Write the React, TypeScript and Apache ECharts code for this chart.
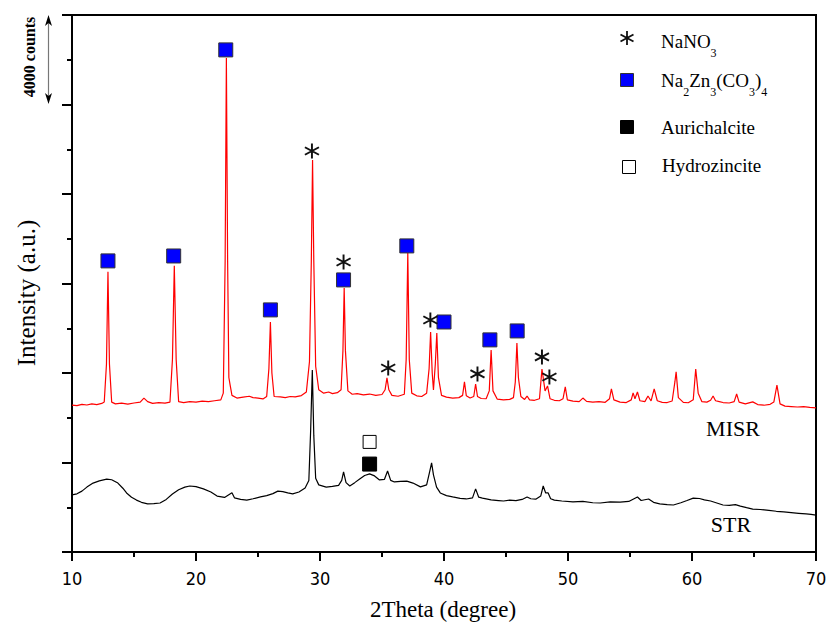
import { useEffect, useRef } from "react";
import * as echarts from "echarts";

// 2Theta range and y scale (counts)
const X_MIN = 10;
const X_MAX = 70;
const X_STEP = 10;
const Y_MIN = 0;
const Y_MAX = 24000;
const Y_STEP = 4000;

// MISR trace [2theta, counts]
const misrData: [number, number][] = [
  [10.0, 6560], [10.4, 6540], [10.8, 6600], [11.2, 6570], [11.6, 6620], [12.0, 6590], [12.4, 6640],
  [12.6, 6700], [12.78, 8400], [12.9, 12520], [13.02, 8400], [13.2, 6700], [13.5, 6620], [14.0, 6650],
  [14.5, 6610], [15.0, 6660], [15.5, 6700], [15.8, 6880], [16.1, 6720], [16.5, 6640], [17.0, 6680],
  [17.5, 6650], [17.9, 6700], [18.1, 8600], [18.25, 12790], [18.4, 8600], [18.6, 6720], [19.0, 6680],
  [19.5, 6720], [20.0, 6700], [20.5, 6740], [21.0, 6720], [21.5, 6760], [22.0, 6800], [22.2, 7100],
  [22.35, 13000], [22.45, 22080], [22.55, 13000], [22.65, 7800], [22.75, 7470], [22.9, 7000],
  [23.3, 6880], [23.8, 6920], [24.3, 6960], [24.6, 6900], [25.0, 6880], [25.4, 6840], [25.7, 6950],
  [25.88, 8200], [26.0, 10280], [26.12, 8000], [26.3, 6950], [26.8, 6930], [27.2, 6900], [27.6, 6950],
  [28.0, 6930], [28.5, 6990], [28.9, 7150], [29.15, 8500], [29.3, 13000], [29.4, 17520], [29.5, 13000],
  [29.65, 8300], [29.9, 7250], [30.3, 7100], [30.7, 7150], [31.0, 7080], [31.4, 7120], [31.7, 7250],
  [31.85, 9000], [31.95, 11800], [32.05, 9000], [32.25, 7200], [32.6, 7050], [33.0, 7080], [33.5, 7020],
  [34.0, 7060], [34.5, 7000], [35.0, 7040], [35.25, 7250], [35.4, 7780], [35.55, 7250], [35.8, 7000],
  [36.3, 6960], [36.8, 7050], [36.95, 8600], [37.08, 13370], [37.2, 8600], [37.4, 7100], [37.8, 6980],
  [38.2, 6950], [38.6, 7100], [38.8, 8200], [38.92, 9830], [39.05, 8000], [39.15, 7240], [39.3, 8400],
  [39.42, 9790], [39.55, 7800], [39.8, 7000], [40.2, 6920], [40.7, 6880], [41.2, 6900], [41.5, 7000],
  [41.65, 7600], [41.8, 6980], [42.1, 6880], [42.4, 6950], [42.55, 7510], [42.7, 6950], [43.0, 6860],
  [43.4, 6850], [43.65, 7200], [43.8, 9030], [43.95, 7200], [44.3, 6830], [44.8, 6800], [45.3, 6820],
  [45.6, 6900], [45.75, 7600], [45.88, 9340], [46.0, 7800], [46.2, 6950], [46.5, 6820], [46.7, 6970],
  [46.9, 6800], [47.3, 6780], [47.7, 6850], [47.9, 8180], [48.15, 7200], [48.35, 7420], [48.55, 6850],
  [48.9, 6780], [49.3, 6760], [49.6, 6850], [49.78, 7380], [49.95, 6800], [50.4, 6740], [50.9, 6720],
  [51.2, 6880], [51.5, 6730], [52.0, 6700], [52.5, 6720], [53.0, 6690], [53.35, 6850], [53.5, 7290],
  [53.7, 6800], [54.2, 6700], [54.7, 6680], [55.1, 6800], [55.25, 7110], [55.4, 6850], [55.6, 7150],
  [55.8, 6760], [56.2, 6720], [56.45, 6970], [56.7, 6750], [56.95, 7290], [57.2, 6760], [57.6, 6690],
  [58.0, 6680], [58.4, 6750], [58.62, 7600], [58.72, 8050], [58.9, 6900], [59.3, 6690], [59.7, 6670],
  [60.1, 6800], [60.3, 8180], [60.5, 7100], [60.8, 6720], [61.2, 6700], [61.5, 6780], [61.7, 6970],
  [61.9, 6760], [62.2, 6720], [62.5, 6680], [63.0, 6660], [63.4, 6720], [63.6, 7060], [63.8, 6700],
  [64.3, 6620], [64.9, 6710], [65.3, 6590], [65.8, 6560], [66.3, 6600], [66.6, 6700], [66.85, 7460],
  [67.1, 6620], [67.5, 6520], [68.0, 6500], [68.5, 6480], [69.0, 6500], [69.5, 6460], [70.0, 6440],
];

// STR trace [2theta, counts]
const strData: [number, number][] = [
  [10.0, 2550], [10.4, 2600], [10.8, 2720], [11.2, 2900], [11.7, 3080], [12.2, 3180], [12.8, 3260],
  [13.2, 3230], [13.7, 3080], [14.1, 2850], [14.4, 2640], [14.8, 2450], [15.2, 2320], [15.6, 2220],
  [16.1, 2150], [16.6, 2160], [17.1, 2190], [17.6, 2350], [18.1, 2590], [18.6, 2780], [19.1, 2900],
  [19.5, 2950], [20.0, 2920], [20.6, 2820], [21.2, 2680], [21.7, 2500], [22.3, 2440], [22.9, 2650],
  [23.1, 2420], [23.6, 2350], [24.1, 2320], [24.6, 2380], [25.2, 2460], [25.7, 2520], [26.2, 2610],
  [26.6, 2720], [27.0, 2700], [27.4, 2640], [27.8, 2600], [28.3, 2680], [28.8, 2860], [29.1, 3200],
  [29.25, 5500], [29.38, 8130], [29.5, 5200], [29.65, 3300], [29.9, 3000], [30.5, 2900], [31.0, 2930],
  [31.5, 2980], [31.75, 3200], [31.9, 3580], [32.1, 3100], [32.4, 2950], [32.8, 3100], [33.2, 3260],
  [33.6, 3420], [34.0, 3490], [34.4, 3400], [34.8, 3220], [35.2, 3250], [35.45, 3620], [35.7, 3200],
  [36.0, 3130], [36.5, 3160], [37.0, 3170], [37.5, 3080], [38.1, 2910], [38.6, 3000], [38.85, 3600],
  [39.0, 3980], [39.15, 3450], [39.4, 2900], [39.7, 2640], [40.2, 2520], [40.7, 2460], [41.3, 2400],
  [41.8, 2370], [42.3, 2420], [42.55, 2820], [42.8, 2450], [43.1, 2410], [43.8, 2330], [44.4, 2300],
  [44.8, 2280], [45.3, 2320], [45.8, 2300], [46.3, 2350], [46.7, 2460], [47.0, 2380], [47.4, 2360],
  [47.8, 2500], [48.0, 2950], [48.2, 2640], [48.4, 2640], [48.6, 2380], [48.9, 2320], [49.5, 2280],
  [50.4, 2240], [51.2, 2260], [52.0, 2200], [52.6, 2190], [53.4, 2240], [54.2, 2230], [54.9, 2260],
  [55.6, 2460], [55.9, 2300], [56.5, 2370], [56.9, 2220], [57.4, 2150], [58.0, 2120], [58.5, 2100],
  [59.1, 2200], [59.6, 2300], [60.1, 2410], [60.6, 2390], [61.0, 2330], [61.5, 2280], [62.0, 2190],
  [62.5, 2100], [63.0, 2080], [63.5, 2120], [63.9, 2050], [64.4, 1980], [64.9, 1920], [65.5, 1900],
  [66.2, 1860], [66.8, 1820], [67.4, 1790], [68.0, 1760], [68.6, 1730], [69.2, 1700], [69.6, 1680],
  [70.0, 1650],
];

// Phase markers [2theta, counts]
const naZnMarks: [number, number][] = [
  [12.9, 13010], [18.2, 13230], [22.4, 22440], [26.0, 10820], [31.9, 12160],
  [37.0, 13680], [40.0, 10280], [43.7, 9480], [45.9, 9880],
];
const nano3Marks: [number, number][] = [
  [29.35, 17920], [31.9, 12960], [35.5, 8220], [38.9, 10370], [42.7, 7960], [47.9, 8720], [48.5, 7820],
];
const aurichalciteMarks: [number, number][] = [[34.0, 3930]];
const hydrozinciteMarks: [number, number][] = [[34.0, 4920]];

const legendNames = ["NaNO3", "Na2Zn3(CO3)4", "Aurichalcite", "Hydrozincite"];
const traceNames = ["MISR", "STR"];

const ASTERISK_D =
  "M44 0L56 0L56 100L44 100Z M90.3 19.8L96.3 30.2L9.7 80.2L3.7 69.8Z M96.3 69.8L90.3 80.2L3.7 30.2L9.7 19.8Z";

const SERIF = "'Liberation Serif', 'Times New Roman', serif";

export default function App() {
  const ref = useRef<HTMLDivElement>(null);

  useEffect(() => {
    if (!ref.current) return;
    try {
      echarts.graphic.registerShape("asterisk", echarts.graphic.extendPath(ASTERISK_D, {}) as any);
    } catch (e) {
      /* already registered */
    }
    const chart = echarts.init(ref.current, undefined, { renderer: "svg" });

    const legendText = (txt: string, x: number, y: number) => ({
      type: "text",
      x,
      y,
      style: {
        text: txt,
        fill: "#000",
        font: `19px ${SERIF}`,
        verticalAlign: "middle",
        rich: {
          n: { fontSize: 19, fontFamily: SERIF, fill: "#000", verticalAlign: "middle" },
          s: { fontSize: 12, fontFamily: SERIF, fill: "#000", verticalAlign: "middle", padding: [24, 0, 0, 0] },
        },
      },
      z: 100,
    });

    const option: any = {
      animation: false,
      backgroundColor: "#fff",
      grid: {
        left: 72,
        right: 15,
        top: 15,
        bottom: 76,
        show: true,
        borderColor: "#000",
        borderWidth: 2,
        backgroundColor: "transparent",
      },
      xAxis: {
        type: "value",
        min: X_MIN,
        max: X_MAX,
        interval: X_STEP,
        axisLine: { show: true, onZero: false, lineStyle: { color: "#000", width: 2 } },
        axisTick: { show: true, inside: false, length: 9, lineStyle: { color: "#000", width: 2 } },
        minorTick: { show: true, splitNumber: 2, length: 5, lineStyle: { color: "#000", width: 2 } },
        splitLine: { show: false },
        axisLabel: {
          color: "#000",
          fontSize: 18,
          fontFamily: "'Liberation Sans Narrow', 'DejaVu Sans Condensed', 'Liberation Sans', Arial, sans-serif",
          margin: 17,
        },
      },
      yAxis: {
        type: "value",
        min: Y_MIN,
        max: Y_MAX,
        interval: Y_STEP,
        axisLine: { show: true, onZero: false, lineStyle: { color: "#000", width: 2 } },
        axisTick: { show: true, inside: false, length: 10, lineStyle: { color: "#000", width: 2 } },
        minorTick: { show: true, splitNumber: 2, length: 5, lineStyle: { color: "#000", width: 2 } },
        splitLine: { show: false },
        axisLabel: { show: false },
      },
      series: [
        {
          name: traceNames[0],
          type: "line",
          data: misrData,
          symbol: "none",
          lineStyle: { color: "#ff0000", width: 1.2 },
          z: 2,
        },
        {
          name: traceNames[1],
          type: "line",
          data: strData,
          symbol: "none",
          lineStyle: { color: "#000", width: 1.2 },
          z: 2,
        },
        {
          name: legendNames[1],
          type: "scatter",
          data: naZnMarks,
          symbol: "rect",
          symbolSize: 14,
          itemStyle: { color: "#0000ff", borderColor: "#333", borderWidth: 1, opacity: 1 },
          z: 5,
        },
        {
          name: legendNames[0],
          type: "scatter",
          data: nano3Marks,
          symbol: "path://" + ASTERISK_D,
          symbolSize: [15, 15],
          itemStyle: { color: "#111", opacity: 1 },
          z: 5,
        },
        {
          name: legendNames[2],
          type: "scatter",
          data: aurichalciteMarks,
          symbol: "rect",
          symbolSize: 14,
          itemStyle: { color: "#000", borderColor: "#000", borderWidth: 1, opacity: 1 },
          z: 5,
        },
        {
          name: legendNames[3],
          type: "scatter",
          data: hydrozinciteMarks,
          symbol: "rect",
          symbolSize: 13,
          itemStyle: { color: "#fff", borderColor: "#000", borderWidth: 1, opacity: 1 },
          z: 5,
        },
      ],
      graphic: [
        // axis titles
        {
          type: "text",
          x: 443,
          y: 609,
          style: {
            text: "2Theta (degree)",
            font: `23px ${SERIF}`,
            fill: "#000",
            align: "center",
            verticalAlign: "middle",
          },
        },
        {
          type: "text",
          x: 26,
          y: 293,
          rotation: Math.PI / 2,
          style: {
            text: "Intensity (a.u.)",
            font: `25px ${SERIF}`,
            fill: "#000",
            align: "center",
            verticalAlign: "middle",
          },
        },
        // 4000 counts scale bar
        {
          type: "text",
          x: 29,
          y: 57,
          rotation: Math.PI / 2,
          style: {
            text: "4000 counts",
            font: `bold 16px ${SERIF}`,
            fill: "#000",
            align: "center",
            verticalAlign: "middle",
          },
        },
        {
          type: "line",
          shape: { x1: 48.5, y1: 20, x2: 48.5, y2: 100 },
          style: { stroke: "#777", lineWidth: 1.2 },
        },
        {
          type: "polygon",
          shape: { points: [[48.5, 15], [45, 26], [48.5, 23], [52, 26]] },
          style: { fill: "#000" },
        },
        {
          type: "polygon",
          shape: { points: [[48.5, 104], [45, 93], [48.5, 96], [52, 93]] },
          style: { fill: "#000" },
        },
        // trace labels
        {
          type: "text",
          x: 733,
          y: 428,
          style: { text: traceNames[0], font: `22px ${SERIF}`, fill: "#000", align: "center", verticalAlign: "middle" },
        },
        {
          type: "text",
          x: 731,
          y: 524,
          style: { text: traceNames[1], font: `22px ${SERIF}`, fill: "#000", align: "center", verticalAlign: "middle" },
        },
        // legend symbols
        {
          type: "asterisk",
          x: 627 - 7.5,
          y: 38 - 7,
          scaleX: 0.15,
          scaleY: 0.14,
          style: { fill: "#111" },
          z: 100,
        },
        {
          type: "rect",
          shape: { x: 620.5, y: 73.5, width: 13, height: 13 },
          style: { fill: "#0000ff", stroke: "#333", lineWidth: 1 },
          z: 100,
        },
        {
          type: "rect",
          shape: { x: 620.5, y: 120.5, width: 13, height: 13 },
          style: { fill: "#000", stroke: "#000", lineWidth: 1 },
          z: 100,
        },
        {
          type: "rect",
          shape: { x: 622.5, y: 160.5, width: 13, height: 13 },
          style: { fill: "#fff", stroke: "#000", lineWidth: 1 },
          z: 100,
        },
        // legend texts
        legendText("{n|NaNO}{s|3}", 661, 41),
        legendText("{n|Na}{s|2}{n|Zn}{s|3}{n|(CO}{s|3}{n|)}{s|4}", 661, 80),
        legendText("{n|Aurichalcite}", 661, 127),
        legendText("{n|Hydrozincite}", 662, 165),
      ],
    };

    chart.setOption(option);
    return () => {
      chart.dispose();
    };
  }, []);

  return (
    <div
      ref={ref}
      style={{ position: "absolute", left: 0, top: 0, width: 831, height: 628 }}
    />
  );
}
